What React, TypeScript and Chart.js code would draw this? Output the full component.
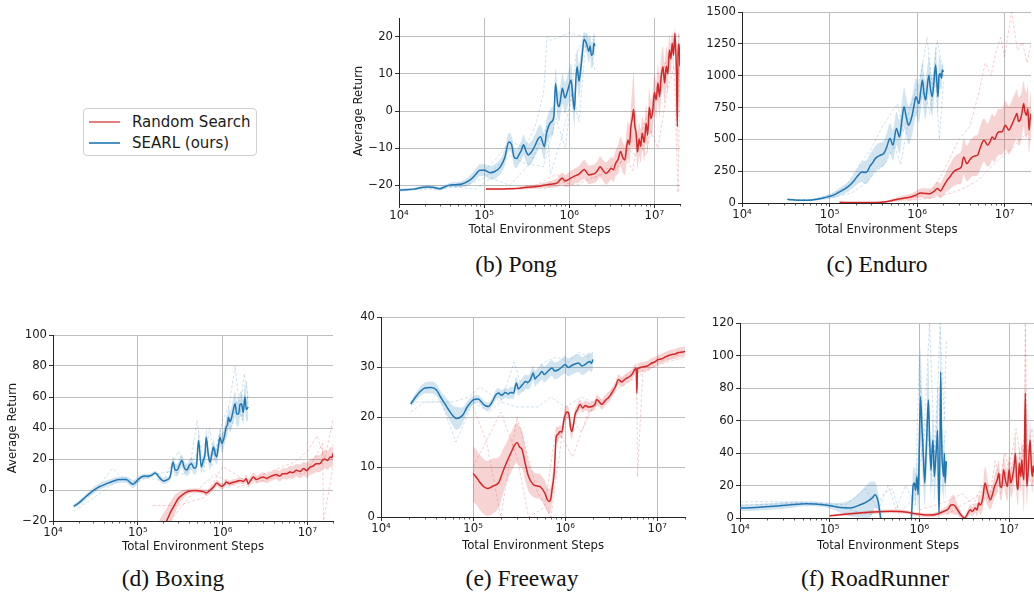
import React, { useEffect, useRef } from "react";
import { Chart, registerables } from "chart.js";

Chart.register(...registerables);

// ---------------- DATA ----------------
// Pong
const pongBlueX = [1.0e4, 1.2e4, 1.5e4, 2.1e4, 2.5e4, 3.0e4, 3.6e4, 4.0e4, 4.6e4, 5.5e4, 6.8e4, 8.0e4, 8.9e4, 1.0e5, 1.18e5, 1.35e5, 1.55e5, 1.75e5, 1.95e5, 2.1e5, 2.24e5, 2.4e5, 2.56e5, 2.75e5, 2.9e5, 3.1e5, 3.3e5, 3.6e5, 4.0e5, 4.3e5, 4.6e5, 5.1e5, 5.4e5, 5.7e5, 6.1e5, 6.6e5, 6.9e5, 7.3e5, 7.6e5, 8.0e5, 8.3e5, 8.9e5, 9.5e5, 1.0e6, 1.05e6, 1.1e6, 1.15e6, 1.2e6, 1.24e6, 1.3e6, 1.34e6, 1.42e6, 1.49e6, 1.6e6, 1.7e6, 1.76e6, 1.82e6, 1.9e6, 1.95e6, 2.0e6];
const pongBlueMean = [-21.3, -21.2, -21.0, -20.4, -20.5, -20.9, -20.2, -19.9, -19.8, -19.6, -18.6, -17.0, -15.9, -15.9, -16.6, -16.2, -15.0, -12.5, -8.3, -9.0, -12.3, -12.8, -11.8, -10.5, -9.1, -10.8, -11.8, -11.0, -9.1, -7.5, -6.9, -9.6, -6.0, -4.2, -3.0, -1.5, 7.4, 2.0, 1.2, 4.0, 6.1, 3.5, 5.2, 7.0, 8.3, 4.0, 0.3, 9.0, 11.9, 8.0, 9.7, 15.0, 19.3, 18.0, 16.0, 17.5, 15.0, 15.5, 18.2, 17.5];
const pongBlueSpread = [0.4, 0.4, 0.4, 0.5, 0.5, 0.5, 0.5, 0.6, 0.7, 0.8, 1.2, 1.5, 1.6, 1.6, 1.8, 2.0, 2.0, 2.2, 2.4, 2.5, 2.5, 2.5, 2.5, 2.6, 2.8, 2.8, 3.0, 3.0, 3.0, 3.2, 3.2, 3.5, 3.5, 3.5, 3.8, 4.0, 4.0, 4.0, 4.0, 4.0, 4.0, 4.2, 4.2, 4.5, 4.5, 4.5, 4.5, 4.5, 4.5, 4.5, 4.5, 3.5, 2.0, 2.5, 3.0, 3.0, 3.5, 3.5, 3.0, 3.0];
const pongRedX = [1.05e5, 1.5e5, 1.86e5, 2.5e5, 3.2e5, 4.2e5, 5.5e5, 6.4e5, 7.2e5, 7.8e5, 8.3e5, 8.9e5, 9.5e5, 1.05e6, 1.15e6, 1.3e6, 1.5e6, 1.6e6, 1.7e6, 1.85e6, 2.0e6, 2.15e6, 2.3e6, 2.5e6, 2.7e6, 2.9e6, 3.1e6, 3.3e6, 3.5e6, 3.75e6, 4.0e6, 4.25e6, 4.5e6, 4.7e6, 4.9e6, 5.1e6, 5.3e6, 5.5e6, 5.7e6, 5.9e6, 6.1e6, 6.35e6, 6.6e6, 6.9e6, 7.2e6, 7.6e6, 8.0e6, 8.35e6, 8.7e6, 9.1e6, 9.6e6, 1.0e7, 1.05e7, 1.1e7, 1.15e7, 1.2e7, 1.26e7, 1.32e7, 1.38e7, 1.44e7, 1.5e7, 1.56e7, 1.62e7, 1.68e7, 1.74e7, 1.78e7, 1.82e7, 1.86e7, 1.9e7, 1.95e7, 2.0e7, 2.05e7];
const pongRedMean = [-21.0, -21.0, -20.9, -20.8, -20.5, -20.3, -19.8, -19.6, -19.3, -18.5, -18.1, -18.8, -18.6, -18.0, -17.5, -17.0, -15.7, -16.5, -17.2, -17.0, -16.8, -16.0, -15.0, -16.0, -16.8, -16.2, -15.4, -15.8, -14.1, -13.0, -10.9, -12.5, -13.2, -10.0, -7.8, -9.0, -4.2, -2.0, 0.4, -4.0, -6.0, -11.0, -7.5, -9.5, -6.0, -8.5, -3.3, -6.5, 1.0, -2.0, 0.3, 5.0, 3.0, 7.5, 3.9, 9.0, 11.9, 7.5, 12.0, 10.0, 16.4, 14.0, 18.2, 15.0, 20.9, 17.0, 9.2, -4.2, 15.5, 18.0, 12.0, 9.0];
const pongRedSpread = [0.3, 0.3, 0.3, 0.4, 0.5, 0.6, 0.8, 1.0, 1.2, 1.5, 1.6, 1.6, 1.8, 2.0, 2.0, 2.2, 2.5, 2.5, 2.5, 2.5, 2.5, 2.6, 2.8, 2.8, 3.0, 3.0, 3.0, 3.2, 3.5, 3.8, 4.0, 4.0, 4.0, 4.5, 5.0, 5.0, 5.5, 8.0, 10.0, 6.0, 5.0, 4.5, 4.5, 4.5, 4.5, 5.0, 5.0, 5.0, 5.0, 5.0, 5.0, 5.0, 5.0, 5.0, 5.5, 5.5, 5.5, 5.5, 5.5, 5.5, 4.0, 4.0, 3.0, 4.0, 1.5, 3.5, 5.0, 8.0, 5.0, 3.0, 4.0, 5.0];
const pongBlueRun1X = [1e5, 1.5e5, 2e5, 3e5, 4e5, 5e5, 5.5e5, 6e5, 8e5, 1e6, 1.5e6, 2e6];
const pongBlueRun1Y = [-16, -12, -8, -10, -4, 5, 20, 19, 20, 21, 20, 20];
const pongBlueRun2X = [1e4, 3e4, 6e4, 1e5, 2e5, 3e5, 5e5, 7e5, 9e5, 1.2e6, 1.5e6, 2e6];
const pongBlueRun2Y = [-21, -21, -20, -18, -12, -14, -15, -2, -10, 15, 20, 19];
const pongBlueRun3X = [3e4, 8e4, 1.2e5, 2e5, 3.5e5, 5.5e5, 6e5, 8e5, 1.1e6, 1.3e6, 1.6e6, 2e6];
const pongBlueRun3Y = [-20, -21, -18, -20, -14, -4, -17, -8, 5, -3, 21, 11];
const pongRedRun1X = [2e5, 4e5, 7e5, 1e6, 1.5e6, 2e6, 3e6, 4e6, 5e6, 6e6, 7e6, 8e6, 1e7, 1.2e7, 1.5e7, 1.8e7, 2e7];
const pongRedRun1Y = [-21, -20, -17, -19, -16, -18, -15, -14, -10, -12, -6, -2, 2, 10, 15, 21, 20];
const pongRedRun2X = [5e5, 8e5, 1.2e6, 1.8e6, 2.5e6, 3.5e6, 4.5e6, 5.5e6, 6.5e6, 8e6, 9e6, 1.1e7, 1.4e7, 1.7e7, 1.9e7, 2e7];
const pongRedRun2Y = [-21, -19, -20, -18, -17, -16, -12, -16, -8, -12, -5, -10, 5, 12, -22, 15];

// Enduro
const enduroBlueX = [3.3e4, 3.8e4, 4.6e4, 5.5e4, 6.6e4, 8.0e4, 1.0e5, 1.15e5, 1.3e5, 1.5e5, 1.7e5, 1.9e5, 2.05e5, 2.2e5, 2.35e5, 2.5e5, 2.7e5, 2.9e5, 3.1e5, 3.3e5, 3.5e5, 3.8e5, 4.2e5, 4.5e5, 4.9e5, 5.3e5, 5.8e5, 6.3e5, 6.7e5, 7.1e5, 7.5e5, 8.0e5, 8.7e5, 9.2e5, 9.7e5, 1.05e6, 1.1e6, 1.15e6, 1.2e6, 1.25e6, 1.3e6, 1.36e6, 1.42e6, 1.49e6, 1.56e6, 1.63e6, 1.68e6, 1.73e6, 1.78e6, 1.83e6, 1.9e6, 1.94e6, 2.0e6];
const enduroBlueMean = [29, 25, 21, 21, 26, 36, 52, 66, 87, 110, 139, 175, 205, 230, 244, 240, 248, 290, 315, 345, 362, 375, 393, 440, 506, 454, 585, 519, 650, 755, 680, 611, 677, 760, 834, 781, 880, 965, 860, 808, 900, 1004, 900, 834, 960, 1083, 950, 834, 1000, 1017, 980, 1044, 1030];
const enduroBlueSpread = [5, 5, 5, 5, 8, 12, 18, 25, 30, 35, 40, 50, 60, 70, 80, 90, 95, 100, 100, 100, 100, 100, 100, 110, 120, 120, 130, 130, 140, 150, 150, 150, 150, 150, 150, 150, 150, 150, 150, 150, 150, 150, 150, 150, 150, 150, 150, 150, 150, 120, 80, 60, 50];
const enduroRedX = [1.3e5, 1.8e5, 2.45e5, 3.0e5, 3.8e5, 4.6e5, 5.9e5, 7.0e5, 8.4e5, 9.5e5, 1.1e6, 1.25e6, 1.4e6, 1.55e6, 1.7e6, 1.85e6, 2.0e6, 2.2e6, 2.4e6, 2.6e6, 2.9e6, 3.2e6, 3.4e6, 3.7e6, 4.0e6, 4.3e6, 4.6e6, 4.9e6, 5.3e6, 5.8e6, 6.4e6, 6.8e6, 7.2e6, 7.7e6, 8.2e6, 8.7e6, 9.3e6, 1.02e7, 1.07e7, 1.12e7, 1.2e7, 1.27e7, 1.33e7, 1.38e7, 1.44e7, 1.5e7, 1.57e7, 1.65e7, 1.7e7, 1.78e7, 1.84e7, 1.9e7, 1.95e7, 2.0e7];
const enduroRedMean = [5, 4, 3, 3, 5, 12, 29, 38, 47, 60, 79, 75, 73, 90, 113, 94, 130, 178, 210, 244, 265, 283, 362, 309, 340, 362, 370, 375, 440, 493, 454, 480, 519, 500, 545, 560, 558, 611, 590, 572, 610, 650, 680, 703, 640, 650, 700, 781, 720, 690, 740, 572, 650, 703];
const enduroRedSpread = [3, 3, 3, 3, 5, 8, 15, 20, 25, 30, 35, 40, 40, 45, 55, 60, 70, 85, 100, 110, 120, 130, 140, 140, 150, 150, 160, 160, 170, 170, 170, 180, 180, 180, 180, 180, 180, 190, 190, 190, 190, 190, 190, 190, 190, 190, 180, 180, 180, 180, 180, 180, 180, 180];
const enduroBlueRun1X = [3.3e4, 6e4, 1e5, 1.5e5, 2e5, 3e5, 4e5, 5e5, 6e5, 7e5, 9e5, 1.1e6, 1.3e6, 1.5e6, 1.7e6, 1.9e6, 2e6];
const enduroBlueRun1Y = [30, 25, 60, 120, 260, 430, 600, 700, 780, 560, 820, 1000, 1300, 900, 1280, 1100, 1000];
const enduroBlueRun2X = [3.3e4, 7e4, 1.2e5, 1.8e5, 2.5e5, 3.5e5, 4.5e5, 5.5e5, 6.5e5, 8e5, 1e6, 1.2e6, 1.4e6, 1.6e6, 1.8e6, 2e6];
const enduroBlueRun2Y = [20, 30, 50, 80, 150, 250, 330, 450, 300, 650, 720, 900, 700, 1000, 500, 950];
const enduroRedRun1X = [5e5, 1e6, 1.5e6, 2e6, 3e6, 4e6, 5e6, 6e6, 7e6, 8e6, 9e6, 1e7, 1.2e7, 1.4e7, 1.6e7, 1.8e7, 2e7];
const enduroRedRun1Y = [10, 50, 100, 250, 500, 600, 850, 1100, 1000, 1200, 1300, 1150, 1500, 1200, 1260, 1100, 1250];
const enduroRedRun2X = [8e5, 1.5e6, 2.5e6, 3.5e6, 5e6, 6.5e6, 8e6, 1e7, 1.3e7, 1.6e7, 2e7];
const enduroRedRun2Y = [20, 40, 80, 120, 180, 260, 320, 380, 450, 520, 560];

// Boxing
const boxingBlueX = [1.75e4, 2.0e4, 2.3e4, 2.6e4, 3.0e4, 3.5e4, 4.3e4, 5.0e4, 6.1e4, 7.3e4, 8.8e4, 1.0e5, 1.1e5, 1.2e5, 1.3e5, 1.45e5, 1.6e5, 1.8e5, 2.0e5, 2.2e5, 2.4e5, 2.6e5, 2.75e5, 2.9e5, 3.1e5, 3.3e5, 3.55e5, 3.8e5, 4.05e5, 4.3e5, 4.6e5, 4.9e5, 5.2e5, 5.6e5, 5.9e5, 6.2e5, 6.4e5, 6.8e5, 7.1e5, 7.5e5, 7.8e5, 8.2e5, 8.5e5, 8.9e5, 9.3e5, 9.8e5, 1.02e6, 1.06e6, 1.1e6, 1.14e6, 1.17e6, 1.22e6, 1.28e6, 1.34e6, 1.4e6, 1.47e6, 1.54e6, 1.6e6, 1.67e6, 1.75e6, 1.83e6, 1.9e6, 2.0e6];
const boxingBlueMean = [-10.5, -8.5, -5.6, -3, -0.2, 2, 4.1, 5.5, 6.7, 6.7, 3.7, 6.5, 8.4, 9.0, 8.8, 9.5, 11, 8, 5.8, 6.5, 8.4, 18, 13, 12.7, 16, 19, 14, 13, 16, 17, 14, 15, 32, 15, 19, 23.4, 34, 22, 18, 24, 27.7, 23, 21.3, 28, 34, 30, 32, 36, 40.6, 42, 47, 44, 47, 52, 55.7, 49, 49, 55, 55.7, 50, 60, 52, 53.5];
const boxingBlueSpread = [1.5, 1.5, 1.5, 1.5, 2, 2, 2, 2, 2, 2, 2.5, 2, 1.5, 1.5, 1.5, 1.5, 1.5, 2, 2, 2, 2, 4, 4, 4, 4, 4, 4, 4, 4, 4, 4, 4, 6, 4, 4, 5, 6, 5, 5, 5, 5, 5, 5, 5, 6, 6, 6, 6, 7, 7, 7, 7, 7, 8, 8, 8, 8, 8, 8, 8, 8, 8, 8];
const boxingRedX = [1.38e5, 1.7e5, 2.0e5, 2.2e5, 2.45e5, 2.75e5, 3.0e5, 3.3e5, 3.7e5, 4.1e5, 4.7e5, 5.4e5, 6.0e5, 6.4e5, 7.0e5, 7.8e5, 8.5e5, 9.2e5, 9.7e5, 1.05e6, 1.1e6, 1.2e6, 1.3e6, 1.45e6, 1.6e6, 1.75e6, 1.9e6, 2.0e6, 2.15e6, 2.3e6, 2.5e6, 2.7e6, 3.0e6, 3.3e6, 3.7e6, 4.0e6, 4.3e6, 4.7e6, 5.1e6, 5.7e6, 6.2e6, 6.7e6, 7.4e6, 8.2e6, 9.0e6, 9.8e6, 1.07e7, 1.17e7, 1.27e7, 1.4e7, 1.5e7, 1.6e7, 1.72e7, 1.86e7, 1.95e7, 2.0e7, 2.05e7];
const boxingRedMean = [-40, -32, -24, -19.6, -14, -9, -5.5, -3.4, -1.5, -0.6, -0.3, -0.6, -1.2, -1.9, -0.5, 1.9, 4.5, 3.2, 2.4, 3.5, 5.2, 4.1, 4.8, 5.5, 6.2, 5.5, 7.3, 4.1, 6.5, 8.4, 6.7, 7.5, 8.4, 7.5, 8.8, 9.5, 10, 9.0, 10.5, 10.5, 11.6, 11.2, 12.7, 12.0, 13.8, 12.5, 14.8, 15.5, 17, 17, 19, 20, 19, 21.3, 21, 23.4, 22];
const boxingRedSpread = [10, 10, 9, 8, 7, 6, 4, 3, 2, 1.5, 1.5, 1.5, 1.5, 2, 2, 2, 2, 2, 2, 2, 2, 2, 2, 2, 2, 2, 2.5, 2.5, 2.5, 2.5, 2.5, 2.5, 3, 3, 3, 3, 3, 3.5, 3.5, 3.5, 4, 4, 4, 4.5, 4.5, 5, 5, 5, 5.5, 5.5, 6, 6, 6, 6.5, 6.5, 7, 7];
const boxingBlueRun1X = [1.75e4, 3e4, 5e4, 8e4, 1.2e5, 2e5, 3e5, 4e5, 5e5, 6e5, 7e5, 8e5, 1e6, 1.2e6, 1.4e6, 1.6e6, 1.8e6, 2e6];
const boxingBlueRun1Y = [-14, -2, 14, 4, 8, 6, 25, 10, 45, 12, 40, 20, 45, 55, 80, 50, 75, 60];
const boxingBlueRun2X = [2e4, 4e4, 7e4, 1e5, 1.5e5, 2.5e5, 3.5e5, 4.5e5, 6e5, 7.5e5, 9e5, 1.1e6, 1.3e6, 1.5e6, 1.7e6, 1.9e6, 2e6];
const boxingBlueRun2Y = [-12, 0, 8, 5, 10, 12, 10, 20, 30, 15, 35, 38, 42, 60, 45, 70, 55];
const boxingRedRun1X = [1.5e5, 3e5, 6e5, 1e6, 2e6, 3e6, 5e6, 7e6, 1e7, 1.3e7, 1.6e7, 2e7];
const boxingRedRun1Y = [-10, -10, -5, 15, 5, 10, 15, 18, 25, 35, 20, 45];
const boxingRedRun2X = [2e5, 4e5, 8e5, 1.5e6, 2.5e6, 4e6, 6e6, 9e6, 1.2e7, 1.5e7, 1.55e7, 2e7];
const boxingRedRun2Y = [-25, -5, 10, 2, 5, 8, 12, 10, 20, 30, -20, 15];

// Freeway
const freewayBlueX = [2.1e4, 2.4e4, 2.7e4, 3.0e4, 3.5e4, 4.0e4, 4.4e4, 5.0e4, 5.4e4, 6.0e4, 6.6e4, 7.2e4, 7.8e4, 8.5e4, 9.3e4, 1.02e5, 1.14e5, 1.22e5, 1.3e5, 1.38e5, 1.47e5, 1.56e5, 1.66e5, 1.78e5, 1.9e5, 2.0e5, 2.1e5, 2.25e5, 2.4e5, 2.55e5, 2.75e5, 2.95e5, 3.1e5, 3.2e5, 3.45e5, 3.7e5, 3.95e5, 4.2e5, 4.5e5, 4.7e5, 4.9e5, 5.2e5, 5.6e5, 5.9e5, 6.3e5, 6.7e5, 7.2e5, 7.7e5, 8.5e5, 9.2e5, 1.0e6, 1.08e6, 1.18e6, 1.28e6, 1.4e6, 1.52e6, 1.65e6, 1.75e6, 1.86e6, 1.93e6, 2.0e6];
const freewayBlueMean = [22.6, 24.1, 25.2, 25.8, 25.9, 25.4, 24.1, 22.5, 21.5, 20.3, 19.7, 19.9, 20.5, 21.8, 22.8, 23.5, 23.6, 23.1, 22.5, 22.2, 22.1, 22.6, 23.5, 24.5, 24.8, 24.4, 24.5, 24.9, 24.6, 24.9, 24.8, 26.8, 25.6, 25.8, 26.5, 27.1, 26.9, 27.5, 28.8, 27.6, 28.0, 28.4, 29.1, 28.5, 28.9, 29.4, 29.8, 29.2, 29.5, 30.0, 30.5, 29.9, 30.3, 30.6, 30.8, 30.2, 30.5, 30.9, 31.1, 30.7, 31.5];
const freewayBlueSpread = [0.6, 0.8, 1.0, 1.1, 1.2, 1.2, 1.2, 1.5, 1.8, 2.0, 2.3, 2.0, 1.5, 1.2, 1.0, 0.8, 0.8, 0.8, 0.8, 0.8, 0.8, 0.8, 0.9, 1.0, 1.0, 1.0, 1.0, 1.0, 1.0, 1.2, 1.2, 1.3, 1.3, 1.3, 1.4, 1.4, 1.4, 1.5, 1.5, 1.5, 1.5, 1.5, 1.6, 1.6, 1.6, 1.6, 1.6, 1.7, 1.7, 1.7, 1.8, 1.8, 1.8, 1.8, 1.8, 1.8, 1.8, 1.8, 1.8, 1.8, 1.8];
const freewayRedX = [1.0e5, 1.1e5, 1.2e5, 1.32e5, 1.45e5, 1.65e5, 1.9e5, 2.1e5, 2.3e5, 2.6e5, 3.0e5, 3.2e5, 3.4e5, 3.7e5, 4.0e5, 4.5e5, 5.0e5, 5.4e5, 6.0e5, 6.4e5, 6.7e5, 7.0e5, 7.2e5, 7.6e5, 8.0e5, 8.3e5, 8.8e5, 9.2e5, 9.7e5, 1.02e6, 1.06e6, 1.1e6, 1.14e6, 1.18e6, 1.23e6, 1.28e6, 1.36e6, 1.45e6, 1.55e6, 1.65e6, 1.8e6, 1.95e6, 2.1e6, 2.2e6, 2.35e6, 2.5e6, 2.65e6, 2.8e6, 3.0e6, 3.2e6, 3.5e6, 3.8e6, 4.1e6, 4.5e6, 4.9e6, 5.3e6, 5.7e6, 5.9e6, 6.0e6, 6.1e6, 6.3e6, 6.8e6, 7.4e6, 8.0e6, 8.7e6, 9.4e6, 1.02e7, 1.1e7, 1.22e7, 1.33e7, 1.44e7, 1.56e7, 1.7e7, 1.85e7, 2.0e7, 2.05e7];
const freewayRedMean = [8.7, 7.8, 6.8, 6.0, 5.7, 6.2, 6.9, 9.0, 10.8, 13.0, 14.9, 14.0, 13.5, 10.5, 8.1, 6.5, 6.2, 6.0, 4.8, 3.5, 3.1, 3.8, 5.5, 8.8, 16.1, 16.5, 17.1, 17.0, 19.5, 20.8, 21.0, 20.5, 18.0, 17.1, 18.5, 20.5, 21.5, 22.5, 21.8, 22.3, 22.0, 22.1, 22.5, 23.5, 23.0, 22.5, 23.0, 23.5, 24.0, 24.8, 26.0, 27.5, 27.0, 27.6, 28.0, 28.5, 29.5, 29.8, 24.8, 29.6, 29.8, 30.0, 30.1, 30.3, 30.8, 31.0, 31.5, 31.6, 32.0, 32.3, 32.5, 32.6, 32.9, 33.0, 33.1, 33.2];
const freewayRedSpread = [5.5, 5.5, 5.5, 5.5, 5.5, 5.5, 5.0, 4.5, 4.0, 4.0, 4.0, 4.0, 3.8, 3.5, 3.0, 2.5, 2.5, 2.5, 2.5, 2.5, 2.5, 2.5, 2.5, 2.0, 1.5, 1.5, 1.2, 1.2, 1.5, 1.5, 1.2, 1.2, 1.5, 1.5, 1.2, 1.0, 1.0, 1.0, 1.0, 1.0, 1.0, 1.0, 1.0, 1.0, 1.0, 1.0, 1.0, 1.0, 1.0, 1.0, 1.0, 1.0, 1.0, 1.0, 1.0, 1.0, 1.0, 1.0, 2.0, 1.0, 1.0, 1.0, 1.0, 1.0, 1.0, 1.0, 1.0, 1.0, 1.0, 1.0, 1.0, 1.0, 1.0, 1.0, 1.0, 1.0];
const freewayBlueRun1X = [2.1e4, 3e4, 4.5e4, 6.5e4, 1e5, 1.5e5, 2e5, 3e5, 5e5, 7e5, 1e6, 1.5e6, 2e6];
const freewayBlueRun1Y = [21, 23, 23, 15, 23, 21, 23, 22, 22, 24, 22, 24, 23];
const freewayBlueRun2X = [2.1e4, 4e4, 6e4, 9e4, 1.2e5, 2e5, 2.8e5, 3.5e5, 4.5e5, 6e5, 8e5, 1.1e6, 1.4e6, 1.8e6, 2e6];
const freewayBlueRun2Y = [23, 23, 23, 24, 26, 23, 31, 25, 29, 31, 32, 31, 33, 32, 33];
const freewayRedRun1X = [1e5, 1.4e5, 2e5, 3e5, 5e5, 7e5, 1e6, 1.5e6, 2e6, 3e6, 5e6, 6e6, 6.1e6, 7e6, 1e7, 1.5e7, 2e7];
const freewayRedRun1Y = [22, 15, 0, 20, 5, 0, 21, 17, 22, 25, 29, 30, 8, 30, 31, 32, 33];
const freewayRedRun2X = [1e5, 2e5, 3e5, 4e5, 6e5, 8e5, 1.2e6, 1.8e6, 2.5e6, 4e6, 6e6, 9e6, 1.3e7, 2e7];
const freewayRedRun2Y = [10, 21, 12, 0, 2, 18, 12, 21, 23, 26, 28, 30, 31, 32];

// RoadRunner
const rrBlueX = [1.0e4, 1.5e4, 2.4e4, 3.5e4, 5.5e4, 8.5e4, 1.1e5, 1.3e5, 1.7e5, 2.2e5, 2.5e5, 2.8e5, 3.0e5, 3.2e5, 3.4e5, 3.5e5, 3.7e5, 4.0e5, 4.5e5, 5.5e5, 6.5e5, 7.5e5, 8.0e5, 8.3e5, 8.5e5, 8.8e5, 9.1e5, 9.4e5, 9.7e5, 1.0e6, 1.03e6, 1.07e6, 1.11e6, 1.15e6, 1.18e6, 1.22e6, 1.26e6, 1.3e6, 1.35e6, 1.38e6, 1.42e6, 1.47e6, 1.51e6, 1.56e6, 1.6e6, 1.63e6, 1.66e6, 1.7e6, 1.73e6, 1.76e6, 1.79e6, 1.83e6, 1.87e6, 1.9e6, 1.94e6, 2.0e6];
const rrBlueMean = [6.1, 6.5, 7.2, 8.0, 8.8, 8.2, 7.2, 6.4, 6.1, 8.2, 9.5, 11.2, 12.5, 14.3, 12.0, 9.2, 0, -15, -30, -40, -40, -25, -8, 8, 19.4, 21.5, 17, 25.5, 14.3, 45, 74.6, 55, 37.8, 21.5, 35, 55, 72.6, 50, 29.4, 40, 48, 25.5, 33.7, 45, 54, 20, 3, 45, 90, 60, 37.8, 30, 25.5, 39.7, 21.5, 35];
const rrBlueSpread = [2, 2, 2, 2, 1.5, 1.5, 2, 3, 5, 8, 10, 11, 10, 8, 6, 5, 5, 5, 5, 5, 5, 5, 5, 8, 10, 10, 10, 10, 10, 30, 30, 25, 20, 15, 15, 20, 25, 20, 15, 15, 15, 15, 15, 15, 20, 20, 15, 20, 30, 25, 20, 15, 15, 15, 10, 10];
const rrRedX = [1.0e5, 1.3e5, 1.7e5, 2.3e5, 3.1e5, 4.0e5, 4.8e5, 6.0e5, 7.3e5, 9.0e5, 1.1e6, 1.3e6, 1.6e6, 1.87e6, 2.1e6, 2.25e6, 2.4e6, 2.6e6, 2.9e6, 3.2e6, 3.4e6, 3.7e6, 3.9e6, 4.2e6, 4.4e6, 4.6e6, 4.8e6, 5.1e6, 5.4e6, 5.8e6, 6.2e6, 6.6e6, 6.9e6, 7.4e6, 7.7e6, 8.0e6, 8.3e6, 8.7e6, 9.1e6, 9.6e6, 1.0e7, 1.05e7, 1.1e7, 1.14e7, 1.18e7, 1.22e7, 1.26e7, 1.3e7, 1.35e7, 1.39e7, 1.42e7, 1.47e7, 1.52e7, 1.55e7, 1.58e7, 1.62e7, 1.66e7, 1.72e7, 1.78e7, 1.82e7, 1.86e7, 1.92e7, 2.0e7];
const rrRedMean = [1.4, 2.0, 2.6, 3.2, 3.7, 4.0, 4.1, 4.0, 3.5, 2.6, 2.0, 1.8, 2.5, 4.1, 5.5, 8.0, 8.2, 6.0, 2.0, 0, 2.0, 5.1, 4.0, 6.1, 5.0, 9.2, 8.0, 12.3, 21.5, 15.3, 11.2, 15.3, 19.4, 23.5, 27.6, 19.4, 19.0, 29.7, 23.5, 19.4, 29.7, 21.5, 26.0, 31.7, 39.7, 21.5, 17.4, 33.7, 25.6, 35.8, 28.0, 23.5, 77, 40, 19.4, 25.5, 35.8, 48, 30, 25.6, 32, 28, 35];
const rrRedSpread = [0.5, 0.8, 1, 1, 1.2, 1.2, 1.2, 1.2, 1.2, 1.2, 1.2, 1.2, 1.5, 2, 3, 5, 6, 4, 2, 1, 2, 3, 3, 3, 4, 5, 6, 7, 10, 8, 6, 6, 7, 8, 8, 8, 8, 9, 9, 9, 9, 9, 10, 10, 12, 10, 10, 10, 10, 12, 15, 20, 40, 20, 12, 10, 10, 12, 10, 10, 10, 10, 10];
const rrBlueRun1X = [1e4, 3e4, 8e4, 1.5e5, 2.5e5, 3.5e5, 4.5e5, 5.5e5, 7e5, 9e5, 1e6, 1.1e6, 1.3e6, 1.5e6, 1.7e6, 1.9e6, 2e6];
const rrBlueRun1Y = [10, 10, 9, 8, 18, 5, 20, 5, 20, 8, 100, 40, 120, 30, 120, 60, 110];
const rrBlueRun2X = [1e4, 5e4, 1e5, 2e5, 3e5, 4e5, 5e5, 6e5, 8e5, 1e6, 1.2e6, 1.4e6, 1.6e6, 1.8e6, 2e6];
const rrBlueRun2Y = [8, 9, 8, 4, 2, 15, 18, 3, 10, 30, 60, 20, 80, 40, 55];
const rrRedRun1X = [1e6, 2e6, 3e6, 4e6, 5e6, 6e6, 7e6, 8e6, 9e6, 1e7, 1.2e7, 1.4e7, 1.5e7, 1.52e7, 1.6e7, 1.8e7, 2e7];
const rrRedRun1Y = [5, 10, 15, 8, 20, 10, 35, 25, 40, 30, 55, 30, 60, 120, 40, 55, 35];
const rrRedRun2X = [2e6, 3e6, 4e6, 6e6, 8e6, 1e7, 1.2e7, 1.4e7, 1.6e7, 1.8e7, 2e7];
const rrRedRun2Y = [2, 8, 12, 20, 15, 35, 25, 45, 30, 20, 40];

// Tick labels
const pongYTicks = [-20, -10, 0, 10, 20];
const enduroYTicks = [0, 250, 500, 750, 1000, 1250, 1500];
const boxingYTicks = [-20, 0, 20, 40, 60, 80, 100];
const freewayYTicks = [0, 10, 20, 30, 40];
const rrYTicks = [0, 20, 40, 60, 80, 100, 120];
const xTickValues = [1e4, 1e5, 1e6, 1e7];
const xTickLabels = ["10\u2074", "10\u2075", "10\u2076", "10\u2077"];
const xTitle = "Total Environment Steps";
const yTitle = "Average Return";
const seriesNames = ["Random Search", "SEARL (ours)"];

// ---------------- STYLE ----------------
const BLUE = "31,119,180";
const RED = "214,39,40";
const FONT = "DejaVu Sans";
const TXT = "#1a1a1a";
const GRID = "#bdbdbd";
const FS = 11.7;

type Band = { x: number[]; mean: number[]; spread: number[] };
type Run = { x: number[]; y: number[] };
interface PanelCfg {
  box: { l: number; t: number; r: number; b: number };
  yMin: number;
  yMax: number;
  yTicks: number[];
  showYTitle: boolean;
  yTitleX: number;
  xTitleY: number;
  blue: Band;
  red: Band;
  blueRuns: Run[];
  redRuns: Run[];
}

const pts = (xs: number[], ys: number[]) => xs.map((x, i) => ({ x, y: ys[i] }));

const minorTicks = {
  id: "minorTicks",
  afterDraw(chart: any) {
    const sx = chart.scales.x;
    const ctx = chart.ctx;
    const y0 = chart.chartArea.bottom;
    ctx.save();
    ctx.strokeStyle = "#333";
    ctx.lineWidth = 0.8;
    for (let e = 4; e <= 7; e++) {
      for (let k = 2; k <= 9; k++) {
        const v = k * Math.pow(10, e);
        if (v > sx.max) continue;
        const px = Math.round(sx.getPixelForValue(v)) + 0.5;
        ctx.beginPath();
        ctx.moveTo(px, y0 + 0.5);
        ctx.lineTo(px, y0 + 2.5);
        ctx.stroke();
      }
    }
    ctx.restore();
  },
};

const PANELS: PanelCfg[] = [
  {
    box: { l: 399, t: 18, r: 680, b: 204 }, yMin: -25, yMax: 25, yTicks: pongYTicks,
    showYTitle: true, yTitleX: 359, xTitleY: 230,
    blue: { x: pongBlueX, mean: pongBlueMean, spread: pongBlueSpread },
    red: { x: pongRedX, mean: pongRedMean, spread: pongRedSpread },
    blueRuns: [{ x: pongBlueRun1X, y: pongBlueRun1Y }, { x: pongBlueRun2X, y: pongBlueRun2Y }, { x: pongBlueRun3X, y: pongBlueRun3Y }],
    redRuns: [{ x: pongRedRun1X, y: pongRedRun1Y }, { x: pongRedRun2X, y: pongRedRun2Y }],
  },
  {
    box: { l: 742, t: 12, r: 1031, b: 203 }, yMin: 0, yMax: 1500, yTicks: enduroYTicks,
    showYTitle: false, yTitleX: 0, xTitleY: 230,
    blue: { x: enduroBlueX, mean: enduroBlueMean, spread: enduroBlueSpread },
    red: { x: enduroRedX, mean: enduroRedMean, spread: enduroRedSpread },
    blueRuns: [{ x: enduroBlueRun1X, y: enduroBlueRun1Y }, { x: enduroBlueRun2X, y: enduroBlueRun2Y }],
    redRuns: [{ x: enduroRedRun1X, y: enduroRedRun1Y }, { x: enduroRedRun2X, y: enduroRedRun2Y }],
  },
  {
    box: { l: 53, t: 335, r: 333, b: 521 }, yMin: -20, yMax: 100, yTicks: boxingYTicks,
    showYTitle: true, yTitleX: 13, xTitleY: 547,
    blue: { x: boxingBlueX, mean: boxingBlueMean, spread: boxingBlueSpread },
    red: { x: boxingRedX, mean: boxingRedMean, spread: boxingRedSpread },
    blueRuns: [{ x: boxingBlueRun1X, y: boxingBlueRun1Y }, { x: boxingBlueRun2X, y: boxingBlueRun2Y }],
    redRuns: [{ x: boxingRedRun1X, y: boxingRedRun1Y }, { x: boxingRedRun2X, y: boxingRedRun2Y }],
  },
  {
    box: { l: 381, t: 317, r: 685, b: 517 }, yMin: 0, yMax: 40, yTicks: freewayYTicks,
    showYTitle: false, yTitleX: 0, xTitleY: 546,
    blue: { x: freewayBlueX, mean: freewayBlueMean, spread: freewayBlueSpread },
    red: { x: freewayRedX, mean: freewayRedMean, spread: freewayRedSpread },
    blueRuns: [{ x: freewayBlueRun1X, y: freewayBlueRun1Y }, { x: freewayBlueRun2X, y: freewayBlueRun2Y }],
    redRuns: [{ x: freewayRedRun1X, y: freewayRedRun1Y }, { x: freewayRedRun2X, y: freewayRedRun2Y }],
  },
  {
    box: { l: 740, t: 323, r: 1036, b: 518 }, yMin: 0, yMax: 120, yTicks: rrYTicks,
    showYTitle: false, yTitleX: 0, xTitleY: 546,
    blue: { x: rrBlueX, mean: rrBlueMean, spread: rrBlueSpread },
    red: { x: rrRedX, mean: rrRedMean, spread: rrRedSpread },
    blueRuns: [{ x: rrBlueRun1X, y: rrBlueRun1Y }, { x: rrBlueRun2X, y: rrBlueRun2Y }],
    redRuns: [{ x: rrRedRun1X, y: rrRedRun1Y }, { x: rrRedRun2X, y: rrRedRun2Y }],
  },
];

const CAPTIONS = [
  { text: "(b) Pong", cx: 516, top: 251 },
  { text: "(c) Enduro", cx: 877, top: 251 },
  { text: "(d) Boxing", cx: 173, top: 565 },
  { text: "(e) Freeway", cx: 522, top: 565 },
  { text: "(f) RoadRunner", cx: 875, top: 565 },
];

function PanelChart({ cfg }: { cfg: PanelCfg }) {
  const ref = useRef<HTMLCanvasElement | null>(null);
  const lh = FS * 1.2;
  const padTop = 12;
  const padRight = 12;
  const { l, t, r, b } = cfg.box;
  const yW = cfg.showYTitle ? Math.round(l - (cfg.yTitleX - lh / 2)) : 45;
  const xH = Math.round(cfg.xTitleY + lh / 2 - b);
  const cw = yW + (r - l) + padRight;
  const ch = padTop + (b - t) + xH;
  const cl = l - yW;
  const ct = t - padTop;

  useEffect(() => {
    if (!ref.current) return;
    const ds: any[] = [];
    const meanLine = (bd: Band, col: string) => ({
      data: pts(bd.x, bd.mean), borderColor: `rgb(${col})`, borderWidth: 1.5,
      pointRadius: 0, fill: false, order: 0, cubicInterpolationMode: "monotone",
    });
    ds.push(meanLine(cfg.blue, BLUE));
    ds.push(meanLine(cfg.red, RED));
    const runLine = (rn: Run, col: string) => ({
      data: pts(rn.x, rn.y), borderColor: `rgba(${col},0.22)`, borderWidth: 1,
      borderDash: [3, 2], pointRadius: 0, fill: false, order: 1,
    });
    cfg.blueRuns.forEach((rn) => ds.push(runLine(rn, BLUE)));
    cfg.redRuns.forEach((rn) => ds.push(runLine(rn, RED)));
    const band = (bd: Band, col: string) => {
      ds.push({
        data: pts(bd.x, bd.mean.map((m, i) => m + bd.spread[i])),
        borderWidth: 0, borderColor: "rgba(0,0,0,0)", pointRadius: 0,
        fill: "+1", backgroundColor: `rgba(${col},0.2)`, order: 2, cubicInterpolationMode: "monotone",
      });
      ds.push({
        data: pts(bd.x, bd.mean.map((m, i) => m - bd.spread[i])),
        borderWidth: 0, borderColor: "rgba(0,0,0,0)", pointRadius: 0,
        fill: false, order: 2, cubicInterpolationMode: "monotone",
      });
    };
    band(cfg.blue, BLUE);
    band(cfg.red, RED);

    const font = { family: FONT, size: FS, lineHeight: 1.2 };
    const chart = new Chart(ref.current, {
      type: "line",
      data: { datasets: ds },
      options: {
        animation: false,
        responsive: false,
        maintainAspectRatio: false,
        devicePixelRatio: 1,
        events: [],
        layout: { padding: { top: padTop, right: padRight, left: 0, bottom: 0 } },
        plugins: { legend: { display: false }, tooltip: { enabled: false } },
        scales: {
          x: {
            type: "logarithmic",
            min: 1e4,
            max: 2e7,
            afterBuildTicks: (s: any) => {
              s.ticks = xTickValues.map((v) => ({ value: v, major: true }));
            },
            afterFit: (s: any) => {
              s.height = xH;
            },
            ticks: {
              autoSkip: false,
              maxRotation: 0,
              padding: 1,
              color: TXT,
              font,
              callback: (v: any) => {
                const i = xTickValues.indexOf(Number(v));
                return i >= 0 ? xTickLabels[i] : "";
              },
            },
            grid: { color: GRID, lineWidth: 1, tickColor: "#333", tickLength: 4 },
            border: { color: "#222", width: 1 },
            title: { display: true, text: xTitle, color: TXT, font, padding: 0 },
          },
          y: {
            type: "linear",
            min: cfg.yMin,
            max: cfg.yMax,
            afterBuildTicks: (s: any) => {
              s.ticks = cfg.yTicks.map((v) => ({ value: v }));
            },
            afterFit: (s: any) => {
              s.width = yW;
            },
            ticks: {
              padding: 2,
              color: TXT,
              font,
              callback: (v: any) => String(v).replace("-", "\u2212"),
            },
            grid: { color: GRID, lineWidth: 1, tickColor: "#333", tickLength: 4 },
            border: { color: "#222", width: 1 },
            title: { display: cfg.showYTitle, text: yTitle, color: TXT, font, padding: 0 },
          },
        },
      } as any,
      plugins: [minorTicks as any],
    });
    return () => chart.destroy();
  }, []);

  return (
    <canvas
      ref={ref}
      width={cw}
      height={ch}
      style={{ position: "absolute", left: cl, top: ct, width: cw, height: ch }}
    />
  );
}

function Legend() {
  const cols = [`rgba(${RED},0.6)`, `rgba(${BLUE},0.8)`];
  return (
    <div
      style={{
        position: "absolute", left: 83, top: 108, width: 174, height: 48,
        border: "1px solid #d0d0d0", borderRadius: 4, background: "#fff", boxSizing: "border-box",
      }}
    >
      {seriesNames.map((n, i) => (
        <div key={n} style={{ position: "absolute", left: 0, top: i === 0 ? 3 : 24, height: 20, width: 172 }}>
          <div style={{ position: "absolute", left: 5, top: 9, width: 31, height: 1.6, background: cols[i] }} />
          <div
            style={{
              position: "absolute", left: 48, top: 0, lineHeight: "20px",
              fontFamily: FONT, fontSize: 15, color: TXT, whiteSpace: "nowrap",
            }}
          >
            {n}
          </div>
        </div>
      ))}
    </div>
  );
}

export default function App() {
  return (
    <div
      style={{
        position: "fixed", left: 0, top: 0, width: 1034, height: 593,
        overflow: "hidden", background: "#fff",
      }}
    >
      {PANELS.map((p, i) => (
        <PanelChart key={i} cfg={p} />
      ))}
      <Legend />
      {CAPTIONS.map((c) => (
        <div
          key={c.text}
          style={{
            position: "absolute", left: c.cx - 150, top: c.top, width: 300, textAlign: "center",
            fontFamily: "'Liberation Serif', 'Times New Roman', serif", fontSize: 23.5,
            lineHeight: "26px", color: "#111", whiteSpace: "nowrap",
          }}
        >
          {c.text}
        </div>
      ))}
    </div>
  );
}
